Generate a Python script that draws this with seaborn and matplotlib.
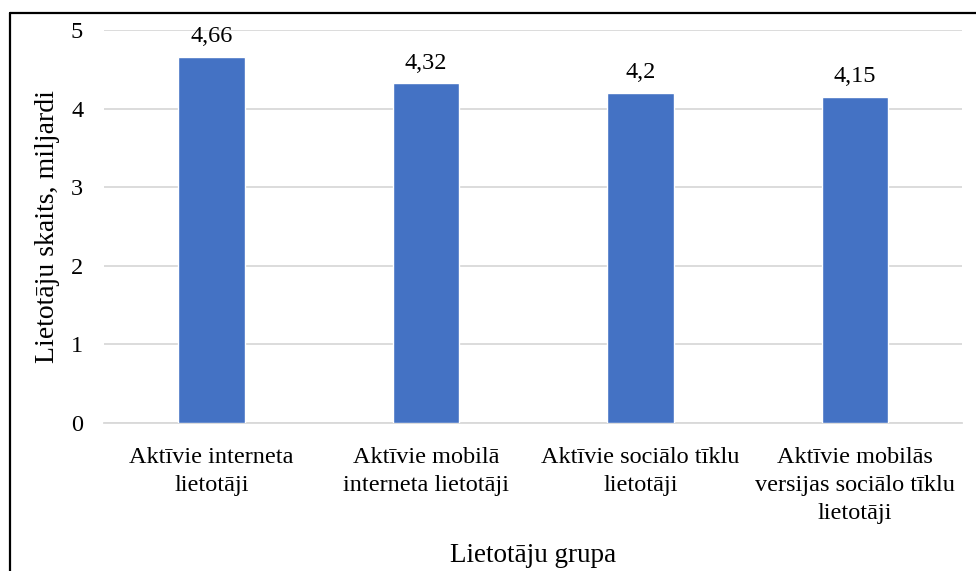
import matplotlib
matplotlib.use("Agg")
import matplotlib.pyplot as plt
import seaborn as sns
import pandas as pd
from matplotlib.lines import Line2D

categories = [
    "Aktīvie interneta\nlietotāji",
    "Aktīvie mobilā\ninterneta lietotāji",
    "Aktīvie sociālo tīklu\nlietotāji",
    "Aktīvie mobilās\nversijas sociālo tīklu\nlietotāji",
]
values = [4.66, 4.32, 4.2, 4.15]
value_labels = ["4,66", "4,32", "4,2", "4,15"]
y_ticks = [0, 1, 2, 3, 4, 5]

sns.set_theme(style="white")
plt.rcParams["font.family"] = ["Liberation Serif", "DejaVu Serif"]

df = pd.DataFrame({"grupa": categories, "skaits": values})

fig = plt.figure(figsize=(9.76, 5.71), dpi=100)
ax = fig.add_axes([0.1066, 0.2592, 0.8791, 0.6883])

sns.barplot(data=df, x="grupa", y="skaits", color="#4472C4", width=0.31,
            saturation=1, ax=ax, zorder=3)

ax.set_ylim(0, 5)
ax.set_yticks(y_ticks)
ax.set_yticklabels([str(t) for t in y_ticks])
ax.yaxis.grid(True, color="#d9d9d9", linewidth=1.3, zorder=0)
ax.set_axisbelow(True)
for side in ["top", "right", "left"]:
    ax.spines[side].set_visible(False)
ax.spines["bottom"].set_color("#d9d9d9")
ax.spines["bottom"].set_linewidth(1.3)
ax.tick_params(axis="both", length=0, labelsize=17.5, colors="#000000")
ax.tick_params(axis="y", pad=15)
ax.tick_params(axis="x", pad=17)
for t in ax.get_xticklabels():
    t.set_linespacing(1.45)

for p, lbl in zip(ax.patches, value_labels):
    ax.annotate(lbl, (p.get_x() + p.get_width() / 2, p.get_height()),
                xytext=(0, 7), textcoords="offset points",
                ha="center", va="bottom", fontsize=17.5, color="#000000")

ax.set_xlabel("Lietotāju grupa", fontsize=19.5, labelpad=14, color="#000000")
ax.set_ylabel("Lietotāju skaits, miljardi", fontsize=20, labelpad=8, color="#000000")

# Outer frame (top and left edges)
fig.add_artist(Line2D([10 / 976, 1.0], [1 - 13 / 571, 1 - 13 / 571],
                      transform=fig.transFigure, color="#000000", linewidth=1.6))
fig.add_artist(Line2D([10 / 976, 10 / 976], [0, 1 - 13 / 571],
                      transform=fig.transFigure, color="#000000", linewidth=1.6))

fig.savefig("out.png", dpi=100)
